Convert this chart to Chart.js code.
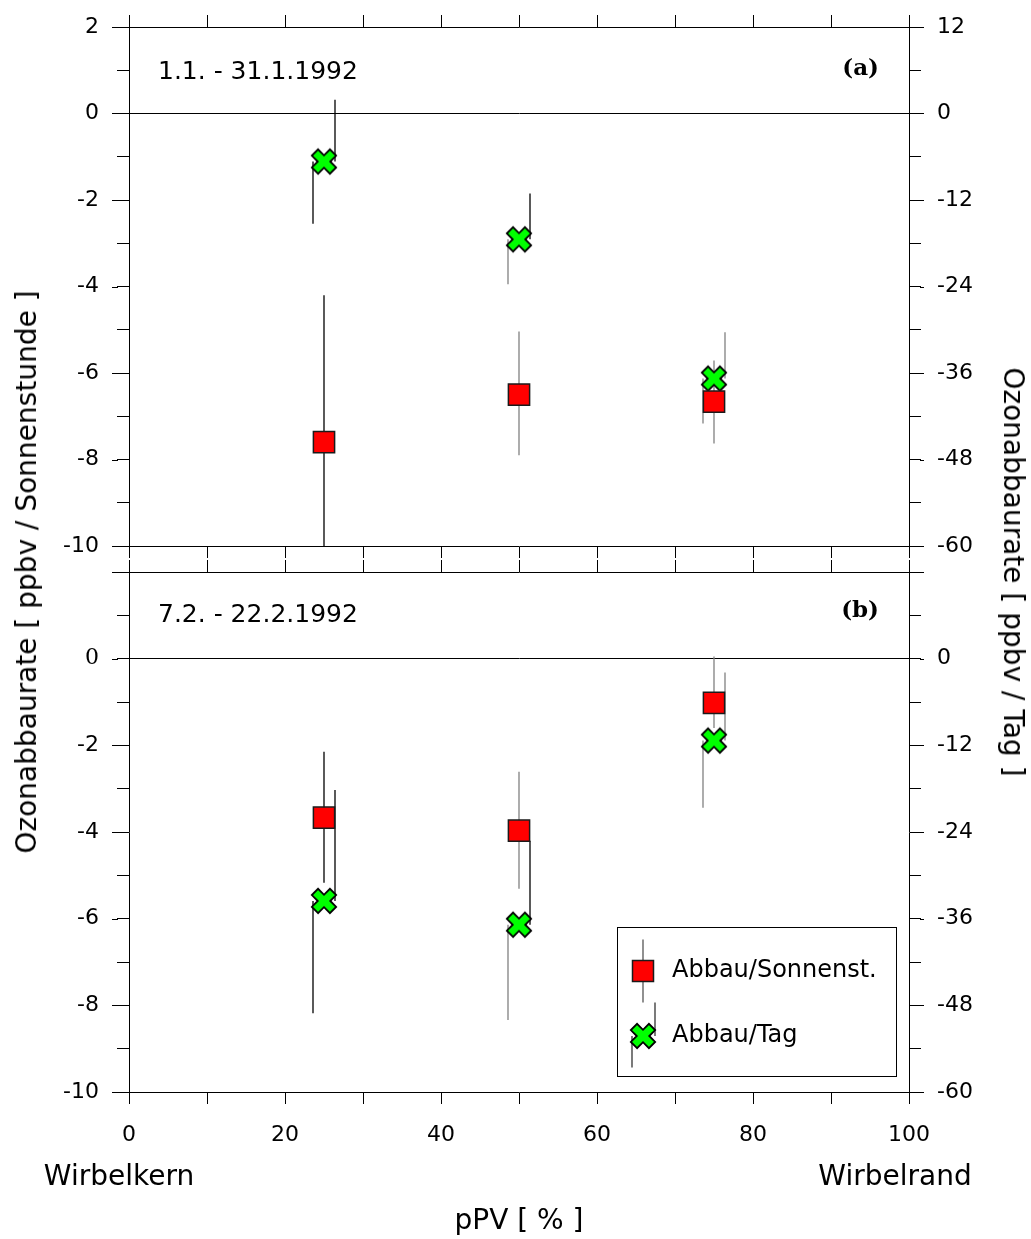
<!DOCTYPE html>
<html><head><meta charset="utf-8">
<script src="https://cdn.jsdelivr.net/npm/chart.js@4.4.1/dist/chart.umd.min.js"></script>
<style>
html,body{margin:0;padding:0;background:#fff;}
#wrap{position:relative;width:1031px;height:1239px;overflow:hidden;background:#fff;}
#c1{position:absolute;left:0;top:0;}
#c2{position:absolute;left:0;top:560px;}
.t{position:absolute;font-family:"DejaVu Sans";font-size:28px;color:#000;white-space:nowrap;line-height:1;}
#tl{left:27px;top:572px;transform:translate(-50%,-50%) rotate(-90deg);}
#tr{left:1013px;top:572px;transform:translate(-50%,-50%) rotate(90deg);}
</style></head><body>
<div id="wrap">
<canvas id="c1" width="1031" height="560"></canvas>
<canvas id="c2" width="1031" height="679"></canvas>
<div class="t" id="tl">Ozonabbaurate [ ppbv / Sonnenstunde ]</div>
<div class="t" id="tr">Ozonabbaurate [ ppbv / Tag ]</div>
</div>
<script>
// ---- data ----
const pPV = [25, 50, 75];
// panel (a) 1.1. - 31.1.1992
const aSonnY  = [-7.6, -6.5, -6.66];
const aSonnHi = [-4.2, -5.04, -5.71];
const aSonnLo = [-11.0, -7.9, -7.63];
const aTagY   = [-1.11, -2.91, -6.13];
const aTagHi  = [0.32, -1.85, -5.06];
const aTagLo  = [-2.55, -3.95, -7.17];
// panel (b) 7.2. - 22.2.1992
const bSonnY  = [-3.67, -3.97, -1.02];
const bSonnHi = [-2.15, -2.61, 0.05];
const bSonnLo = [-5.17, -5.31, -1.6];
const bTagY   = [-5.59, -6.14, -1.89];
const bTagHi  = [-3.03, -4.2, -0.32];
const bTagLo  = [-8.18, -8.34, -3.44];
// tick labels
const xLabels = [0, 20, 40, 60, 80, 100];
const leftLabelsA = [2, 0, -2, -4, -6, -8, -10];
const leftLabelsB = [0, -2, -4, -6, -8, -10];
const rightLabelsA = [12, 0, -12, -24, -36, -48, -60];
const rightLabelsB = [0, -12, -24, -36, -48, -60];
const seriesNames = ['Abbau/Sonnenst.', 'Abbau/Tag'];
const periods = ['1.1. - 31.1.1992', '7.2. - 22.2.1992'];

// ---- styles (separate from data) ----
const sonnInk = ['#000', '#808080', '#808080'];
const tagHiInk = ['#000', '#000', '#808080'];
const tagLoInk = ['#000', '#808080', '#808080'];

function makeX() {
  const c = document.createElement('canvas'); c.width = 30; c.height = 30;
  const g = c.getContext('2d');
  const w = 4.4, L = 12.8;
  const pts = [[w,L],[-w,L],[-w,w],[-L,w],[-L,-w],[-w,-w],[-w,-L],[w,-L],[w,-w],[L,-w],[L,w],[w,w]];
  g.translate(15, 15); g.rotate(Math.PI / 4);
  g.beginPath();
  pts.forEach((p, i) => i ? g.lineTo(p[0], p[1]) : g.moveTo(p[0], p[1]));
  g.closePath();
  g.fillStyle = '#00ff00'; g.fill();
  g.lineWidth = 1.8; g.strokeStyle = '#000'; g.lineJoin = 'miter'; g.stroke();
  return c;
}
const xImg = makeX();

function pts(ys, his, los) {
  return pPV.map((x, i) => ({x: x, y: ys[i], hi: his[i], lo: los[i]}));
}

function line(ctx, x1, y1, x2, y2) {
  ctx.beginPath(); ctx.moveTo(x1, y1); ctx.lineTo(x2, y2); ctx.stroke();
}

const errorBars = {
  id: 'errorBars',
  beforeDatasetsDraw(chart) {
    const {ctx, chartArea: a, scales: {x, y}} = chart;
    ctx.save();
    ctx.beginPath(); ctx.rect(a.left, a.top, a.right - a.left, a.bottom - a.top); ctx.clip();
    ctx.lineWidth = 1.3;
    chart.data.datasets.forEach(ds => {
      ds.data.forEach((p, i) => {
        const px = Math.round(x.getPixelForValue(p.x));
        const py = y.getPixelForValue(p.y);
        const hi = y.getPixelForValue(p.hi), lo = y.getPixelForValue(p.lo);
        if (ds.split) {
          ctx.strokeStyle = ds.hiInk[i]; line(ctx, px + 11, hi, px + 11, py);
          ctx.strokeStyle = ds.loInk[i]; line(ctx, px - 11, py, px - 11, lo);
        } else {
          ctx.strokeStyle = ds.ink[i]; line(ctx, px, hi, px, lo);
        }
      });
    });
    ctx.restore();
  }
};

const majorTicks = {
  id: 'majorTicks',
  afterDraw(chart) {
    const ctx = chart.ctx;
    ctx.save(); ctx.strokeStyle = '#000'; ctx.lineWidth = 1;
    const y = chart.scales.y;
    y.ticks.forEach(t => {
      if (Math.abs(t.value % 2) === 0) {
        const py = Math.round(y.getPixelForValue(t.value)) + 0.5;
        line(ctx, y.right - 17, py, y.right - 11, py);
      }
    });
    const r = chart.scales.yR;
    r.ticks.forEach(t => {
      if (Math.abs(t.value % 12) === 0) {
        const py = Math.round(r.getPixelForValue(t.value)) + 0.5;
        line(ctx, r.left + 11, py, r.left + 15, py);
      }
    });
    ctx.restore();
  }
};

const panelText = {
  id: 'panelText',
  afterDraw(chart, args, o) {
    const {ctx, chartArea: a} = chart;
    ctx.save();
    ctx.fillStyle = '#000'; ctx.textBaseline = 'middle';
    ctx.font = '25px "DejaVu Sans"'; ctx.textAlign = 'left';
    ctx.fillText(o.period, a.left + 29, a.top + o.dy1);
    ctx.font = 'bold 23px "DejaVu Serif"'; ctx.textAlign = 'right';
    ctx.fillText(o.tag, a.right - 30, a.top + o.dy2);
    if (o.extras) {
      // Wirbelkern / Wirbelrand
      ctx.font = '28px "DejaVu Sans"'; ctx.textAlign = 'center';
      const xs = chart.scales.x;
      ctx.fillText('Wirbelkern', xs.getPixelForValue(0) - 10, a.bottom + 86);
      ctx.fillText('Wirbelrand', xs.getPixelForValue(100) - 14, a.bottom + 86);
      // legend
      const lx = 617.5, ly = a.bottom - 164.5, lw = 279, lh = 149;
      ctx.fillStyle = '#fff'; ctx.fillRect(lx, ly, lw, lh);
      ctx.strokeStyle = '#000'; ctx.lineWidth = 1; ctx.strokeRect(lx, ly, lw, lh);
      const mx = 643, y1 = ly + 43.5, y2 = ly + 108.5;
      ctx.lineWidth = 1.3; ctx.strokeStyle = '#555';
      line(ctx, mx, ly + 12, mx, ly + 75);
      ctx.fillStyle = '#ff0000'; ctx.fillRect(mx - 10.5, y1 - 10.5, 21, 21);
      ctx.strokeStyle = '#1a1a1a'; ctx.lineWidth = 1.5; ctx.strokeRect(mx - 10.5, y1 - 10.5, 21, 21);
      ctx.lineWidth = 1.3; ctx.strokeStyle = '#333';
      line(ctx, mx + 12, ly + 75, mx + 12, y2);
      line(ctx, mx - 11, y2, mx - 11, ly + 140);
      ctx.drawImage(xImg, mx - 15, y2 - 15);
      ctx.fillStyle = '#000'; ctx.font = '24px "DejaVu Sans"'; ctx.textAlign = 'left'; ctx.textBaseline = 'middle';
      const ds = chart.data.datasets;
      ctx.fillText(ds[0].label, 672, y1);
      ctx.fillText(ds[1].label, 672, y2);
    }
    ctx.restore();
  }
};

const tickFont = {family: 'DejaVu Sans', size: 22};

function buildChart(canvas, cfg) {
  const zeroPad = s => { s.paddingTop = 0; s.paddingBottom = 0; s.paddingLeft = 0; s.paddingRight = 0; };
  return new Chart(canvas, {
    type: 'scatter',
    data: {
      datasets: [
        {label: seriesNames[0], data: pts(cfg.sY, cfg.sHi, cfg.sLo), ink: sonnInk,
         pointStyle: 'rect', pointRadius: 15, pointHoverRadius: 15,
         backgroundColor: '#ff0000', borderColor: '#1a1a1a', borderWidth: 1.5, xAxisID: 'x', yAxisID: 'y'},
        {label: seriesNames[1], data: pts(cfg.tY, cfg.tHi, cfg.tLo), split: true, hiInk: tagHiInk, loInk: tagLoInk,
         pointStyle: xImg, pointRadius: 13, pointHoverRadius: 13,
         backgroundColor: '#00ff00', borderColor: '#000', xAxisID: 'x', yAxisID: 'y'}
      ]
    },
    options: {
      responsive: false, animation: false, events: [],
      layout: {padding: 0, autoPadding: false},
      plugins: {legend: {display: false}, tooltip: {enabled: false},
        panelText: {period: cfg.period, tag: cfg.tag, dy1: cfg.dy1, dy2: cfg.dy2, extras: cfg.extras}},
      scales: {
        x: {type: 'linear', position: 'bottom', min: 0, max: 100,
          ticks: {stepSize: 10, display: cfg.extras, autoSkip: false, maxRotation: 0, minRotation: 0,
            font: tickFont, color: '#000', padding: 18,
            callback: v => xLabels.includes(v) ? String(v) : ''},
          grid: {drawOnChartArea: false, drawTicks: true, tickLength: 12, tickColor: '#000', tickWidth: 1},
          border: {display: true, color: '#000', width: 1},
          title: {display: cfg.extras, text: 'pPV [ % ]', color: '#000',
            font: {family: 'DejaVu Sans', size: 28}, padding: {top: 0, bottom: 0}},
          afterFit: s => { s.height = cfg.bottomH; zeroPad(s); }},
        x2: {type: 'linear', axis: 'x', position: 'top', min: 0, max: 100,
          ticks: {stepSize: 10, display: false},
          grid: {drawOnChartArea: false, drawTicks: true, tickLength: 12, tickColor: '#000', tickWidth: 1},
          border: {display: true, color: '#000', width: 1},
          afterFit: s => { s.height = cfg.topH; zeroPad(s); }},
        y: {type: 'linear', position: 'left', min: -10, max: 2,
          ticks: {stepSize: 1, autoSkip: false, color: '#000', padding: 18,
            font: c => (cfg.serifZero && c.tick && c.tick.value === 0) ? {family: 'DejaVu Serif', size: 22} : tickFont,
            callback: v => cfg.left.includes(v) ? String(v) : ''},
          grid: {drawOnChartArea: true, drawTicks: true, tickLength: 12, tickColor: '#000', tickWidth: 1,
            color: c => (c.tick && c.tick.value === 0) ? '#000' : 'rgba(0,0,0,0)', lineWidth: 1},
          border: {display: true, color: '#000', width: 1},
          afterFit: s => { s.width = 129; zeroPad(s); }},
        yR: {type: 'linear', axis: 'y', position: 'right', min: -60, max: 12,
          ticks: {stepSize: 6, autoSkip: false, color: '#000', padding: 16, font: tickFont,
            callback: v => cfg.right.includes(v) ? String(v) : ''},
          grid: {drawOnChartArea: false, drawTicks: true, tickLength: 12, tickColor: '#000', tickWidth: 1},
          border: {display: true, color: '#000', width: 1},
          afterFit: s => { s.width = 122; zeroPad(s); }}
      }
    },
    plugins: [errorBars, majorTicks, panelText]
  });
}

buildChart(document.getElementById('c1'), {
  sY: aSonnY, sHi: aSonnHi, sLo: aSonnLo, tY: aTagY, tHi: aTagHi, tLo: aTagLo,
  left: leftLabelsA, right: rightLabelsA, topH: 27, bottomH: 14,
  period: periods[0], tag: '(a)', dy1: 45, dy2: 42, extras: false, serifZero: false
});
buildChart(document.getElementById('c2'), {
  sY: bSonnY, sHi: bSonnHi, sLo: bSonnLo, tY: bTagY, tHi: bTagHi, tLo: bTagLo,
  left: leftLabelsB, right: rightLabelsB, topH: 12, bottomH: 147,
  period: periods[1], tag: '(b)', dy1: 43, dy2: 39, extras: true, serifZero: true
});
</script>
</body></html>
